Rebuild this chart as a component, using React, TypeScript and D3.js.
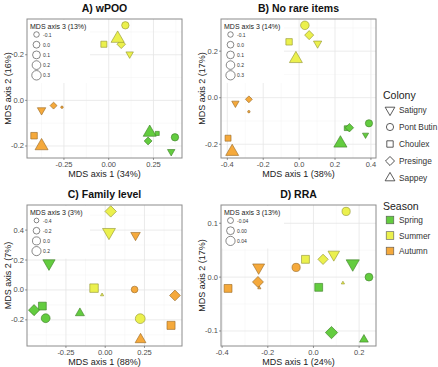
import React from "react";
import * as d3 from "d3";

const seasons = ["Spring", "Summer", "Autumn"];
const colonies = ["Satigny", "Pont Butin", "Choulex", "Presinge", "Sappey"];
const seasonColors = ["#63cc3f", "#ebf04d", "#f5a93b"];

// every panel: Spring (5 colonies), Summer (5 colonies), Autumn (5 colonies)
const wpooAxis1 = [0.349, 0.37, 0.271, 0.22, 0.229, 0.117, 0.093, -0.027, 0.07, 0.05, -0.375, -0.261, -0.417, -0.308, -0.375];
const wpooAxis2 = [-0.225, -0.162, -0.145, -0.178, -0.141, 0.203, 0.329, 0.246, 0.246, 0.271, -0.043, -0.03, -0.155, -0.023, -0.2];
const wpooAxis3 = [-0.1, 0.05, -0.15, -0.05, 0.33, -0.1, 0.05, 0.0, 0.0, 0.35, -0.05, -0.2, 0.05, -0.1, 0.33];

const norareAxis1 = [0.37, 0.389, 0.265, 0.28, 0.23, 0.103, 0.032, -0.056, 0.056, -0.018, -0.355, -0.28, -0.396, -0.28, -0.373];
const norareAxis2 = [-0.16, -0.11, -0.131, -0.129, -0.196, 0.233, 0.311, 0.24, 0.269, 0.167, -0.024, -0.06, -0.174, -0.007, -0.232];
const norareAxis3 = [-0.15, 0.05, -0.1, 0.0, 0.38, -0.05, 0.2, 0.05, 0.05, 0.35, -0.1, -0.2, 0.0, -0.1, 0.35];

const familyAxis1 = [-0.358, -0.379, -0.4, -0.453, -0.161, 0.024, 0.223, -0.071, 0.035, -0.02, 0.193, 0.187, 0.419, 0.444, 0.225];
const familyAxis2 = [0.178, -0.189, -0.108, -0.135, -0.155, 0.386, -0.192, 0.012, 0.525, -0.033, 0.366, 0.003, -0.237, -0.037, -0.332];
const familyAxis3 = [0.2, 0.15, 0.15, 0.15, -0.2, 0.3, 0.35, 0.3, 0.2, -0.48, -0.15, -0.2, 0.2, 0.1, 0.0];

const rraAxis1 = [0.172, 0.243, 0.023, 0.079, 0.221, 0.089, 0.143, -0.035, 0.042, 0.129, -0.24, -0.076, -0.374, -0.243, -0.237];
const rraAxis2 = [0.025, 0.0, -0.019, -0.103, -0.116, 0.042, 0.122, 0.033, 0.033, -0.011, 0.018, 0.018, -0.021, -0.009, -0.02];
const rraAxis3 = [0.06, 0.0, 0.03, 0.06, -0.03, 0.02, 0.01, 0.03, 0.01, -0.07, 0.03, 0.01, 0.03, 0.025, -0.07];

const panelTitles = ["A) wPOO", "B) No rare items", "C) Family level", "D) RRA"];
const axis1Labels = ["MDS axis 1 (34%)", "MDS axis 1 (38%)", "MDS axis 1 (88%)", "MDS axis 1 (24%)"];
const axis2Labels = ["MDS axis 2 (16%)", "MDS axis 2 (17%)", "MDS axis 2 (7%)", "MDS axis 2 (17%)"];
const axis3Labels = ["MDS axis 3 (13%)", "MDS axis 3 (14%)", "MDS axis 3 (3%)", "MDS axis 3 (13%)"];
const xTicks = [[-0.25, 0, 0.25], [-0.4, -0.2, 0, 0.2, 0.4], [-0.25, 0, 0.25], [-0.4, -0.2, 0, 0.2]];
const yTicks = [[-0.2, 0, 0.2], [-0.2, 0, 0.2], [-0.2, 0, 0.2, 0.4], [-0.1, 0, 0.1]];
const sizeBreaks = [[-0.1, 0, 0.1, 0.2, 0.3], [-0.1, 0, 0.1, 0.2, 0.3], [-0.4, -0.2, 0, 0.2], [-0.04, 0, 0.04]];
const xDigits = [2, 1, 2, 1];
const sizeDigits = [1, 1, 1, 2];

const panelData = [
  [wpooAxis1, wpooAxis2, wpooAxis3],
  [norareAxis1, norareAxis2, norareAxis3],
  [familyAxis1, familyAxis2, familyAxis3],
  [rraAxis1, rraAxis2, rraAxis3],
];

const boxes = [
  { x: 27, y: 19, w: 155, h: 139 },
  { x: 221, y: 19, w: 155, h: 139 },
  { x: 27, y: 205, w: 155, h: 141 },
  { x: 221, y: 205, w: 155, h: 141 },
];

const font = "Liberation Sans, Arial, sans-serif";
const shapeTypes = [d3.symbolTriangle, d3.symbolCircle, d3.symbolSquare, d3.symbolSquare, d3.symbolTriangle];
const shapeRotate = [180, 0, 0, 45, 0];

function shapePath(ci: number, r: number) {
  return d3.symbol(shapeTypes[ci], Math.PI * r * r)() as string;
}

function fmt(v: number, d: number) {
  return v.toFixed(d).replace("−", "-");
}

function expand(vals: number[]) {
  const [lo, hi] = d3.extent(vals) as [number, number];
  const pad = (hi - lo) * 0.05;
  return [lo - pad, hi + pad];
}

function minors(ticks: number[], dom: number[]) {
  const step = ticks[1] - ticks[0];
  const out = [ticks[0] - step / 2, ...ticks.map((t) => t + step / 2)];
  return out.filter((v) => v > dom[0] && v < dom[1]);
}

function Panel({ i }: { i: number }) {
  const b = boxes[i];
  const [ax1, ax2, ax3] = panelData[i];
  const xd = expand(ax1);
  const yd = expand(ax2);
  const x = d3.scaleLinear().domain(xd).range([b.x, b.x + b.w]);
  const y = d3.scaleLinear().domain(yd).range([b.y + b.h, b.y]);
  const zext = d3.extent(ax3) as [number, number];
  const zt = d3.scaleLinear().domain(zext).range([0, 1]).clamp(true);
  const rad = (v: number) => 1.2 + 3.7 * Math.sqrt(zt(v));

  const pts = ax1.map((v, k) => ({
    x: v,
    y: ax2[k],
    z: ax3[k],
    si: Math.floor(k / 5),
    ci: k % 5,
  }));

  const breaks = sizeBreaks[i];
  const legendItems = breaks.map((v, k) => ({ v, r: rad(v), cy: b.y + 15.5 + k * 10.2 }));
  const last = legendItems[legendItems.length - 1];

  return (
    <g>
      <rect x={b.x} y={b.y} width={b.w} height={b.h} fill="#fff" />
      {minors(xTicks[i], xd).map((t) => (
        <line key={"mx" + t} x1={x(t)} x2={x(t)} y1={b.y} y2={b.y + b.h} stroke="#f2f2f2" strokeWidth={0.5} />
      ))}
      {minors(yTicks[i], yd).map((t) => (
        <line key={"my" + t} x1={b.x} x2={b.x + b.w} y1={y(t)} y2={y(t)} stroke="#f2f2f2" strokeWidth={0.5} />
      ))}
      {xTicks[i].map((t) => (
        <line key={"gx" + t} x1={x(t)} x2={x(t)} y1={b.y} y2={b.y + b.h} stroke="#e6e6e6" strokeWidth={0.8} />
      ))}
      {yTicks[i].map((t) => (
        <line key={"gy" + t} x1={b.x} x2={b.x + b.w} y1={y(t)} y2={y(t)} stroke="#e6e6e6" strokeWidth={0.8} />
      ))}
      <rect x={b.x + 1} y={b.y + 1} width={62} height={last.cy + last.r - b.y + 2} fill="#fff" />
      <text x={b.x + 3} y={b.y + 7} fontSize={7} fill="#222" dominantBaseline="central" fontFamily={font}>
        {axis3Labels[i]}
      </text>
      {legendItems.map((d) => (
        <g key={"lg" + d.v}>
          <circle cx={b.x + 9.5} cy={d.cy} r={d.r} fill="none" stroke="#555" strokeWidth={0.7} />
          <text x={b.x + 16} y={d.cy} fontSize={5} fill="#333" dominantBaseline="central" fontFamily={font}>
            {fmt(d.v, sizeDigits[i])}
          </text>
        </g>
      ))}
      {pts.map((p, k) => {
        const fill = seasonColors[p.si];
        return (
          <path
            key={"p" + k}
            d={shapePath(p.ci, rad(p.z))}
            transform={`translate(${x(p.x)},${y(p.y)}) rotate(${shapeRotate[p.ci]})`}
            fill={fill}
            stroke={d3.color(fill)!.darker(1.4).formatHex()}
            strokeWidth={0.6}
          />
        );
      })}
      <rect x={b.x} y={b.y} width={b.w} height={b.h} fill="none" stroke="#8c8c8c" strokeWidth={1} />
      {xTicks[i].map((t) => (
        <g key={"tx" + t}>
          <line x1={x(t)} x2={x(t)} y1={b.y + b.h} y2={b.y + b.h + 2} stroke="#555" strokeWidth={0.6} />
          <text x={x(t)} y={b.y + b.h + 6.5} fontSize={7.5} fill="#4d4d4d" textAnchor="middle" dominantBaseline="central" fontFamily={font}>
            {fmt(t, xDigits[i])}
          </text>
        </g>
      ))}
      {yTicks[i].map((t) => (
        <g key={"ty" + t}>
          <line x1={b.x - 2} x2={b.x} y1={y(t)} y2={y(t)} stroke="#555" strokeWidth={0.6} />
          <text x={b.x - 3} y={y(t)} fontSize={7.5} fill="#4d4d4d" textAnchor="end" dominantBaseline="central" fontFamily={font}>
            {fmt(t, 1)}
          </text>
        </g>
      ))}
      <text x={b.x + b.w / 2} y={b.y - 11.5} fontSize={10.5} fontWeight="bold" fill="#111" textAnchor="middle" dominantBaseline="central" fontFamily={font}>
        {panelTitles[i]}
      </text>
      <text x={b.x + b.w / 2} y={b.y + b.h + 16} fontSize={9} fill="#222" textAnchor="middle" dominantBaseline="central" fontFamily={font}>
        {axis1Labels[i]}
      </text>
      <text
        transform={`translate(${b.x - 19},${b.y + b.h / 2}) rotate(-90)`}
        fontSize={9}
        fill="#222"
        textAnchor="middle"
        dominantBaseline="central"
        fontFamily={font}
      >
        {axis2Labels[i]}
      </text>
    </g>
  );
}

function Legends() {
  const lx = 390;
  return (
    <g fontFamily={font}>
      <text x={383} y={95} fontSize={10.5} fill="#222" dominantBaseline="central">Colony</text>
      {colonies.map((c, k) => {
        const cy = 110 + k * 17;
        return (
          <g key={c}>
            <path
              d={shapePath(k, 3.6)}
              transform={`translate(${lx},${cy}) rotate(${shapeRotate[k]})`}
              fill="none"
              stroke="#333"
              strokeWidth={0.8}
            />
            <text x={399} y={cy} fontSize={8.3} fill="#333" dominantBaseline="central">{c}</text>
          </g>
        );
      })}
      <text x={383} y={206} fontSize={10.5} fill="#222" dominantBaseline="central">Season</text>
      {seasons.map((s, k) => {
        const cy = 220 + k * 15.5;
        return (
          <g key={s}>
            <rect x={lx - 3.8} y={cy - 3.8} width={7.6} height={7.6} fill={seasonColors[k]} stroke="#555" strokeWidth={0.6} />
            <text x={399} y={cy} fontSize={8.3} fill="#333" dominantBaseline="central">{s}</text>
          </g>
        );
      })}
    </g>
  );
}

export default function App() {
  return (
    <svg width={438} height={367} style={{ position: "absolute", left: 0, top: 0, background: "#fff" }}>
      <rect width={438} height={367} fill="#fff" />
      {[0, 1, 2, 3].map((i) => (
        <Panel key={i} i={i} />
      ))}
      <Legends />
    </svg>
  );
}
